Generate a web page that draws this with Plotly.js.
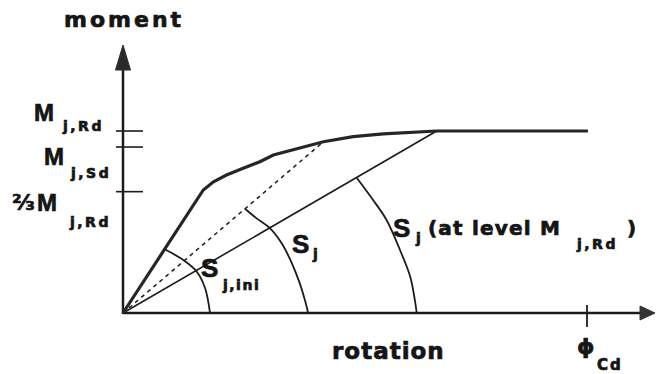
<!DOCTYPE html>
<html>
<head>
<meta charset="utf-8">
<script src="https://cdn.plot.ly/plotly-3.0.1.min.js"></script>
<style>
  html, body { margin: 0; padding: 0; background: #fff; }
  #chart { width: 657px; height: 374px; }
  /* heavier lettering for the labels */
  #chart .annotation-text { stroke: #151515; stroke-width: 0.7px; }
</style>
</head>
<body>
<div id="chart"></div>
<script>
// Moment–rotation characteristic of a joint.
// Rotation is expressed relative to phi_Cd (= 1), moment relative to M_j,Rd (= 1).

// Non-linear M–phi curve (initial stiff branch, knee, hardening, plateau at M_j,Rd)
const curveRot = [0, 0.173, 0.195, 0.223, 0.259, 0.295, 0.324, 0.381, 0.432, 0.496, 0.561, 0.676, 1.002];
const curveMom = [0, 0.676, 0.721, 0.758, 0.795, 0.831, 0.868, 0.905, 0.941, 0.969, 0.984, 1.0, 1.0];

// Secant to the curve at an intermediate moment (dashed)
const secantRot = [0, 0.432];
const secantMom = [0, 0.941];

// Secant to the curve at level M_j,Rd
const secantRdRot = [0, 0.676];
const secantRdMom = [0, 1.0];

// Angle arcs marking the three stiffnesses
const arcIniRot = [0.090, 0.130, 0.159, 0.177, 0.1875];
const arcIniMom = [0.350, 0.291, 0.227, 0.136, 0];
const arcSjRot = [0.263, 0.288, 0.317, 0.342, 0.364, 0.381, 0.392, 0.399];
const arcSjMom = [0.573, 0.520, 0.465, 0.383, 0.273, 0.163, 0.071, 0];
const arcRdRot = [0.504, 0.539, 0.568, 0.597, 0.619, 0.629, 0.633];
const arcRdMom = [0.742, 0.621, 0.511, 0.346, 0.199, 0.071, 0];

// Tick marks on the moment axis: M_j,Rd, M_j,Sd, 2/3 M_j,Rd
const momentTicks = [1, 0.912, 2 / 3];
// Tick mark on the rotation axis: phi_Cd
const rotationTicks = [1];

// Axis extents
const momentAxisTop = 1.4725;
const rotationAxisEnd = 1.1466;

// ---- layout scales ----
const W = 657, H = 374;
const xRange = [-0.26509, 1.15086];
const yRange = [-0.33516, 1.71978];
const pxPerX = W / (xRange[1] - xRange[0]);
const pxPerY = H / (yRange[1] - yRange[0]);
const dx = p => p / pxPerX;   // pixel length -> rotation units
const dy = p => p / pxPerY;   // pixel length -> moment units

const ink = '#1c1c1c';
const traces = [];

function line(x, y, width, extra) {
  traces.push(Object.assign({
    type: 'scatter', mode: 'lines', x: x, y: y,
    line: { color: ink, width: width },
    hoverinfo: 'skip'
  }, extra || {}));
}

// axes
const yHeadLen = dy(25), yHeadHalf = dx(7.5);
const xHeadLen = dx(15), xHeadHalf = dy(7);
line([0, 0], [-dy(1), momentAxisTop - yHeadLen * 0.8], 2.5);
line([0, rotationAxisEnd - xHeadLen * 0.8], [0, 0], 2.5);
// arrow heads
traces.push({
  type: 'scatter', mode: 'lines', fill: 'toself', fillcolor: '#2a2a2a',
  x: [0, -yHeadHalf, yHeadHalf, 0],
  y: [momentAxisTop, momentAxisTop - yHeadLen, momentAxisTop - yHeadLen, momentAxisTop],
  line: { color: '#2a2a2a', width: 1 }, hoverinfo: 'skip'
});
traces.push({
  type: 'scatter', mode: 'lines', fill: 'toself', fillcolor: '#333',
  x: [rotationAxisEnd, rotationAxisEnd - xHeadLen, rotationAxisEnd - xHeadLen, rotationAxisEnd],
  y: [0, xHeadHalf, -xHeadHalf, 0],
  line: { color: '#333', width: 1 }, hoverinfo: 'skip'
});

// ticks
momentTicks.forEach(m => line([-dx(7), dx(20)], [m, m], 1.6));
rotationTicks.forEach(r => line([r, r], [dy(8), -dy(14)], 1.8));

// secants
line(secantRdRot, secantRdMom, 1.6);
line(secantRot, secantMom, 1.4, { line: { color: ink, width: 1.5, dash: '4px,4px' } });

// arcs
line(arcIniRot, arcIniMom, 1.8, { line: { color: ink, width: 1.8, shape: 'spline' } });
line(arcSjRot, arcSjMom, 1.8, { line: { color: ink, width: 1.8, shape: 'spline' } });
line(arcRdRot, arcRdMom, 1.8, { line: { color: ink, width: 1.8, shape: 'spline' } });

// M–phi curve
line(curveRot, curveMom, 3, { line: { color: '#262626', width: 3.2 } });

// ---- labels ----
const bold = (family, size) => ({ family: family, size: size, color: '#151515', weight: 700 });
const SANS = 'DejaVu Sans', ARIAL = 'Liberation Sans';
function label(text, px, py, font, spacing, xanchor) {
  const t = spacing ? '<span style="letter-spacing:' + spacing + 'px">' + text + '</span>' : text;
  return {
    xref: 'paper', yref: 'paper', x: px / W, y: 1 - py / H,
    xanchor: xanchor || 'center', yanchor: 'middle',
    text: t, showarrow: false, font: font
  };
}

const annotations = [
  label('moment', 123.5, 19.7, bold(SANS, 22), 3),
  label('rotation', 388.5, 350.7, bold(SANS, 23), 1),

  label('M', 43.5, 112.5, bold(ARIAL, 24)),
  label('j,Rd', 82.5, 125.5, bold(SANS, 14), 2.5),
  label('M', 53.5, 156.5, bold(ARIAL, 24)),
  label('j,Sd', 90, 173, bold(SANS, 14), 2.5),
  label('\u2154', 23.5, 202.5, bold(SANS, 22)),
  label('M', 47, 202.5, bold(ARIAL, 24)),
  label('j,Rd', 90, 221.5, bold(SANS, 14), 2.5),

  label('S', 209.5, 268, bold(ARIAL, 26)),
  label('j,ini', 240.5, 285, bold(SANS, 14), 1.5),
  label('S', 300, 244, bold(ARIAL, 26)),
  label('j', 315, 253.5, bold(SANS, 14)),
  label('S', 401.5, 227.5, bold(ARIAL, 26)),
  label('j', 417.5, 237.5, bold(SANS, 14)),
  label('(at level M', 426, 228, bold(SANS, 20), 1.2, 'left'),
  label('j,Rd', 597, 243.5, bold(SANS, 14), 2.5),
  label(')', 631, 228, bold(SANS, 20)),

  label('\u03D5', 585.5, 346.5, bold(SANS, 22)),
  label('Cd', 610, 365, bold(SANS, 15), 2)
];

const layout = {
  width: W, height: H,
  margin: { l: 0, r: 0, t: 0, b: 0, pad: 0 },
  paper_bgcolor: '#fff', plot_bgcolor: '#fff',
  showlegend: false,
  xaxis: { range: xRange, visible: false, fixedrange: true },
  yaxis: { range: yRange, visible: false, fixedrange: true },
  annotations: annotations
};

Plotly.newPlot('chart', traces, layout, { staticPlot: true, displayModeBar: false });
</script>
</body>
</html>
